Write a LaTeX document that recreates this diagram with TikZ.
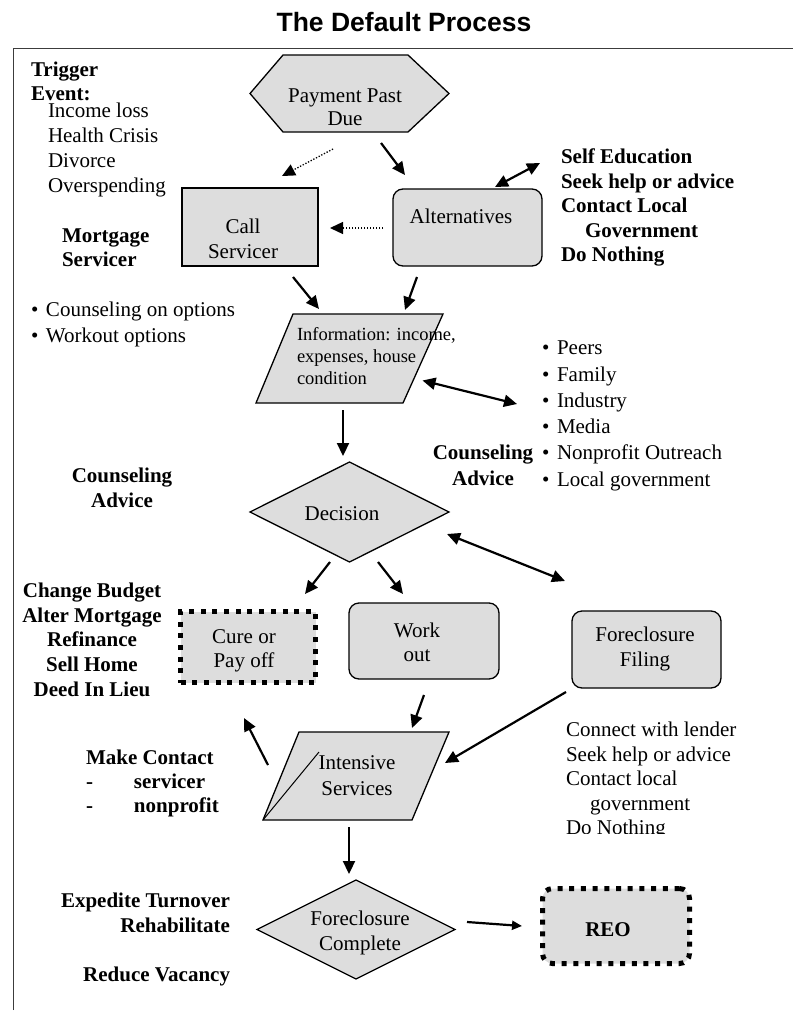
\documentclass[tikz,border=0pt]{standalone}
\usepackage{fontspec}
\setmainfont{Liberation Serif}
\newfontfamily\titlefont{Liberation Sans}
\usetikzlibrary{arrows.meta,calc}
\definecolor{shfill}{RGB}{221,221,221}
\definecolor{framec}{RGB}{60,60,60}
\newcommand\fsz[1]{\fontsize{21}{#1}\selectfont}
\tikzset{
  shp/.style={draw=black, line width=1.3pt, fill=shfill},
  anch/.style={draw=none, inner sep=0pt, outer sep=0pt},
  boxn/.style={shp, inner sep=0pt, outer sep=0pt},
  arr/.style={line width=2.2pt, -{Triangle[length=13pt,width=12pt]}},
  arrsmall/.style={line width=2.2pt, -{Triangle[length=10pt,width=9pt]}},
  darr/.style={line width=2.2pt, {Triangle[length=13pt,width=12pt]}-{Triangle[length=13pt,width=12pt]}},
  dotarr/.style={line width=1.3pt, dash pattern=on 1.3pt off 1.7pt, -{Triangle[length=13pt,width=12pt]}},
  dotbox/.style={draw=black, line width=5pt, dash pattern=on 5pt off 6.7pt, fill=shfill, inner sep=0pt, outer sep=0pt},
  txt/.style={inner sep=0pt, outer sep=0pt},
}
\begin{document}
\begin{tikzpicture}[x=1pt,y=-1pt]
\useasboundingbox (0,0) rectangle (793,1017);
% title and frame
\node[txt, anchor=base, font=\fontsize{26.5}{30}\selectfont\titlefont\bfseries] (title) at (404,31) {The Default Process};
\draw[line width=1pt, framec] (13,1010) -- (13,48) -- (793,48);

% shapes
\node[anch, minimum width=199pt, minimum height=77pt] (pay) at (349.5,93.5) {};
\draw[shp] (pay.west) -- ([xshift=33pt]pay.north west) -- ([xshift=-41pt]pay.north east) -- (pay.east)
  -- ([xshift=-41pt]pay.south east) -- ([xshift=33pt]pay.south west) -- cycle;
\node[boxn, minimum width=136pt, minimum height=78pt] (call) at (250,227) {};
\node[boxn, rounded corners=10pt, minimum width=149pt, minimum height=77pt] (alt) at (467.5,227.5) {};
\node[anch, minimum width=187pt, minimum height=89pt] (info) at (349.5,358.5) {};
\draw[shp] ([xshift=37pt]info.north west) -- (info.north east) -- ([xshift=-40pt]info.south east) -- (info.south west) -- cycle;
\node[anch, minimum width=199pt, minimum height=100pt] (dec) at (349.5,512) {};
\draw[shp] (dec.west) -- (dec.north) -- (dec.east) -- (dec.south) -- cycle;
\node[dotbox, minimum width=135pt, minimum height=71pt] (cure) at (248,647) {};
\node[boxn, rounded corners=10pt, minimum width=150pt, minimum height=76pt] (work) at (424,641) {};
\node[boxn, rounded corners=10pt, minimum width=149pt, minimum height=77pt] (ffil) at (646.5,649.5) {};
\node[anch, minimum width=186pt, minimum height=88pt] (ints) at (356,776) {};
\draw[shp] ([xshift=36pt]ints.north west) -- (ints.north east) -- ([xshift=-37pt]ints.south east) -- (ints.south west) -- cycle;
\draw[line width=1pt] ([xshift=56pt,yshift=-20pt]ints.north west) -- (ints.south west);
\node[anch, minimum width=198pt, minimum height=99pt] (fcom) at (356,929.5) {};
\draw[shp] (fcom.west) -- (fcom.north) -- (fcom.east) -- (fcom.south) -- cycle;
\node[dotbox, rounded corners=10pt, minimum width=147pt, minimum height=75pt] (reo) at (616,926) {};

% texts in shapes
\node[txt, anchor=north, align=center, font=\fsz{23}] (tpay) at (345,89) {Payment Past\\Due};
\node[txt, anchor=north, align=center, font=\fsz{25}] (tcall) at (243,219) {Call\\Servicer};
\node[txt, anchor=north, font=\fsz{25}] (talt) at (461,209) {Alternatives};
\node[txt, anchor=north west, align=left, font=\fontsize{18.5}{22}\selectfont] (tinfo) at (297,327) {Information: income,\\expenses, house\\condition};
\node[txt, anchor=north, font=\fsz{25}] (tdec) at (342,507) {Decision};
\node[txt, anchor=north, align=center, font=\fsz{24}] (tcure) at (244,630) {Cure or\\Pay off};
\node[txt, anchor=north, align=center, font=\fsz{24}] (twork) at (417,623) {Work\\out};
\node[txt, anchor=north, align=center, font=\fsz{25}] (tffil) at (645,627) {Foreclosure\\Filing};
\node[txt, anchor=north, align=center, font=\fsz{26}] (tints) at (357,756) {Intensive\\Services};
\node[txt, anchor=north, align=center, font=\fsz{25}] (tfcom) at (360,911) {Foreclosure\\Complete};
\node[txt, anchor=north, font=\fsz{25}\bfseries] (treo) at (608,923) {REO};

% side texts
\node[txt, anchor=north west, align=left, font=\fsz{24}\bfseries] (trig) at (31,62) {Trigger\\Event:};
\node[txt, anchor=north west, align=left, font=\fsz{25}] (events) at (48,103) {Income loss\\Health Crisis\\Divorce\\Overspending};
\node[txt, anchor=north west, align=left, font=\fsz{24}\bfseries] (msv) at (62,229) {Mortgage\\Servicer};
\node[txt, anchor=north west, align=left, font=\fsz{26}] (bul) at (31,302) {\makebox[15pt][l]{•}Counseling on options\\\makebox[15pt][l]{•}Workout options};
\node[txt, anchor=north west, align=left, font=\fsz{24.5}\bfseries] (selfl) at (561,149) {Self Education\\Seek help or advice\\Contact Local\\\hspace*{24pt}Government\\Do Nothing};
\node[txt, anchor=north west, align=left, font=\fsz{26.3}] (peers) at (542,341) {\makebox[15pt][l]{•}Peers\\\makebox[15pt][l]{•}Family\\\makebox[15pt][l]{•}Industry\\\makebox[15pt][l]{•}Media\\\makebox[15pt][l]{•}Nonprofit Outreach\\\makebox[15pt][l]{•}Local government};
\node[txt, anchor=north, align=center, font=\fsz{26}\bfseries] (cadv1) at (483,445) {Counseling\\Advice};
\node[txt, anchor=north, align=center, font=\fsz{25}\bfseries] (cadv2) at (122,468) {Counseling\\Advice};
\node[txt, anchor=north, align=center, font=\fsz{24.7}\bfseries] (chg) at (92,583) {Change Budget\\Alter Mortgage\\Refinance\\Sell Home\\Deed In Lieu};
\node[txt, anchor=north west, align=left, font=\fsz{24}\bfseries] (mkc) at (86,750) {Make Contact\\\makebox[48pt][l]{-}servicer\\\makebox[48pt][l]{-}nonprofit};
\begin{scope}
\clip (540,700) rectangle (790,833);
\node[txt, anchor=north west, align=left, font=\fsz{24.5}] (conn) at (566,722) {Connect with lender\\Seek help or advice\\Contact local\\\hspace*{24pt}government\\Do Nothing};
\end{scope}
\node[txt, anchor=north east, align=right, font=\fsz{25}\bfseries] (expd) at (230,893) {Expedite Turnover\\Rehabilitate\\[24pt]Reduce Vacancy};

% connectors
\draw[dotarr] ($(pay.center)+(-16.5,55.5)$) -- ($(call.center)+(32,-51)$);
\draw[arr] ($(pay.center)+(31.5,49.5)$) -- ($(alt.center)+(-62.5,-52.5)$);
\draw[darr] ($(alt.center)+(27.5,-40.5)$) -- ($(selfl.north west)+(-21,14)$);
\draw[dotarr] ($(alt.center)+(-84.5,0.5)$) -- ($(call.center)+(80,1)$);
\draw[arr] ($(call.center)+(43,50)$) -- ($(info.center)+(-30.5,-49.5)$);
\draw[arr] ($(alt.center)+(-50.5,49.5)$) -- ($(info.center)+(55.5,-48.5)$);
\draw[darr] ($(info.center)+(73,22)$) -- ($(peers.north west)+(-25,63)$);
\draw[arr] ($(info.center)+(-6.5,51.5)$) -- ($(dec.center)+(-6.5,-56)$);
\draw[arr] ($(dec.center)+(-19.5,50)$) -- ($(cure.center)+(57,-53)$);
\draw[arr] ($(dec.center)+(28.5,50)$) -- ($(work.center)+(-21,-47)$);
\draw[darr] ($(dec.center)+(97.5,22)$) -- ($(ffil.center)+(-81.5,-68.5)$);
\draw[arr] ($(work.center)+(0,54)$) -- ($(ints.center)+(56,-48)$);
\draw[arr] ($(ffil.center)+(-80.5,42.5)$) -- ($(ints.center)+(89,-13)$);
\draw[arr] ($(ints.center)+(-88,-11)$) -- ($(cure.center)+(-4,71)$);
\draw[arr] ($(ints.center)+(-7,51)$) -- ($(fcom.center)+(-7,-55.5)$);
\draw[arrsmall] ($(fcom.center)+(111,-7.5)$) -- ($(reo.center)+(-94,0)$);
\end{tikzpicture}
\end{document}
